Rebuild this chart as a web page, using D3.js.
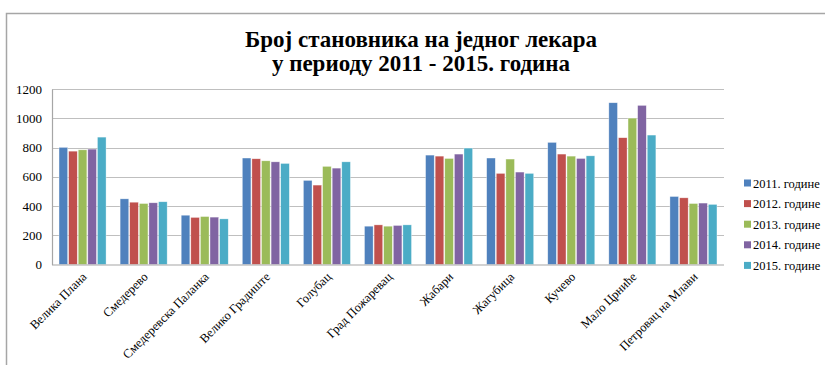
<!DOCTYPE html>
<html><head><meta charset="utf-8">
<script src="https://cdn.jsdelivr.net/npm/d3@7"></script>
<style>body{margin:0;background:#fff}svg{display:block}svg text{font-family:"Liberation Serif","Times New Roman",serif}</style>
</head><body><svg id="c" width="825" height="365"></svg>
<script>
const titleLines = ["Број становника на једног лекара", "у периоду 2011 - 2015. година"];
const categories = ["Велика Плана","Смедерево","Смедеревска Паланка","Велико Градиште","Голубац","Град Пожаревац","Жабари","Жагубица","Кучево","Мало Црниће","Петровац на Млави"];
const seriesNames = ["2011. године","2012. године","2013. године","2014. године","2015. године"];
const y2011 = [801,449,337,728,575,262,748,728,835,1106,465];
const y2012 = [775,426,322,723,543,271,741,623,755,867,456];
const y2013 = [784,417,328,709,671,262,725,721,741,1001,417];
const y2014 = [789,422,324,702,659,267,755,632,725,1088,420];
const y2015 = [871,429,312,691,702,271,796,623,743,885,411];
const yTicks = [0,200,400,600,800,1000,1200];
const colors = ["#4F81BD","#C0504D","#9BBB59","#8064A2","#4BACC6"];
const seriesValues = [y2011,y2012,y2013,y2014,y2015];

const svg = d3.select("#c");
const font = '"Liberation Serif","Times New Roman",serif';
svg.append("rect").attr("x",6.5).attr("y",13.5).attr("width",840).attr("height",360)
  .attr("fill","#fff").attr("stroke","#a6a6a6").attr("stroke-width",1.5);

const L=52, R=724, T=89, B=264.5;
const y = d3.scaleLinear().domain([0,1200]).range([B,T]);
const x0 = d3.scaleBand().domain(categories).range([L,R]).paddingInner(0.23).paddingOuter(0.115);
const x1 = d3.scaleBand().domain(seriesNames).range([0,x0.bandwidth()]).paddingInner(0.1);

// gridlines
svg.append("g").selectAll("line").data(yTicks.filter(d=>d>0)).join("line")
  .attr("x1",L).attr("x2",R).attr("y1",d=>Math.round(y(d))+0.5).attr("y2",d=>Math.round(y(d))+0.5)
  .attr("stroke","#bfbfbf").attr("stroke-width",1.2);

// bars
const groups = svg.append("g").selectAll("g").data(categories).join("g")
  .attr("transform",d=>`translate(${x0(d)},0)`);
groups.selectAll("rect").data((c,i)=>seriesNames.map((s,j)=>({s,v:seriesValues[j][i],j}))).join("rect")
  .attr("x",d=>x1(d.s)).attr("width",x1.bandwidth())
  .attr("y",d=>y(d.v)).attr("height",d=>B-y(d.v))
  .attr("fill",d=>colors[d.j]).attr("stroke","#ffffff").attr("stroke-opacity",0.6).attr("stroke-width",0.6);

// axes
const yAxis = d3.axisLeft(y).tickValues(yTicks).tickFormat(d3.format("d")).tickSize(0).tickPadding(10);
const ga = svg.append("g").attr("transform",`translate(${L},0)`).call(yAxis).attr("font-family",font);
ga.select(".domain").attr("stroke","#a6a6a6").attr("stroke-width",1.2);
ga.selectAll("text").attr("font-family",font).attr("font-size",13).attr("fill","#000");

svg.append("line").attr("x1",L).attr("x2",R).attr("y1",B+0.5).attr("y2",B+0.5).attr("stroke","#a6a6a6").attr("stroke-width",1.2);

const xAxis = d3.axisBottom(x0).tickSize(0).tickPadding(0);
const gx = svg.append("g").attr("transform",`translate(0,${B})`).call(xAxis).attr("font-family",font);
gx.select(".domain").remove();
gx.selectAll("text").attr("font-family",font).attr("font-size",12.5).attr("fill","#000")
  .attr("text-anchor","end").attr("dy",0).attr("y",0)
  .attr("transform","translate(5,13) rotate(-45)");

// title
svg.append("g").selectAll("text").data(titleLines).join("text")
  .attr("x",421).attr("y",(d,i)=>47+i*24).attr("text-anchor","middle")
  .attr("font-family",font).attr("font-weight","bold").attr("font-size",23).attr("fill","#000").text(d=>d);

// legend
const lg = svg.append("g").attr("font-family",font).selectAll("g").data(seriesNames).join("g")
  .attr("transform",(d,i)=>`translate(744,${183+i*20.6})`);
lg.append("rect").attr("x",0).attr("y",-3.5).attr("width",7).attr("height",7).attr("fill",(d,i)=>colors[i]);
lg.append("text").attr("x",9).attr("y",4.5).attr("font-family",font).attr("font-size",12.5).attr("fill","#000").text(d=>d);
</script></body></html>
